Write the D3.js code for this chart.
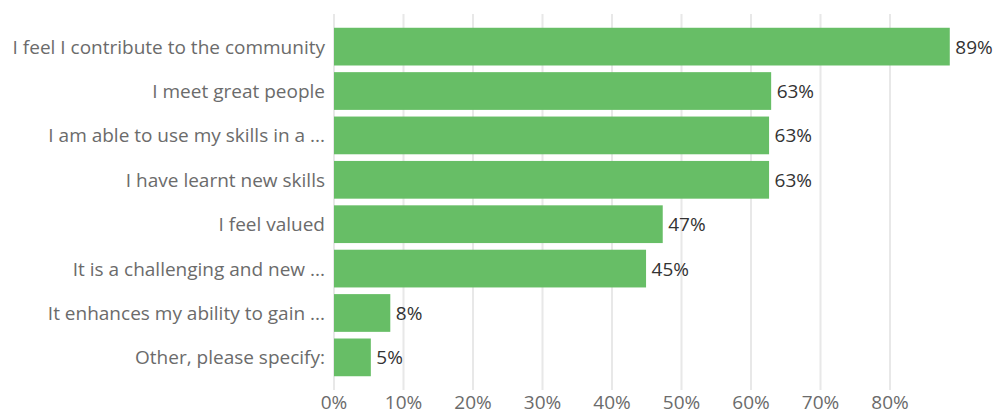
<!DOCTYPE html>
<html>
<head>
<meta charset="utf-8">
<script src="https://cdn.jsdelivr.net/npm/d3@7"></script>
<style>
  html, body { margin: 0; padding: 0; background: #fff; }
  svg { display: block; font-family: "Open Sans", sans-serif; }
</style>
</head>
<body>
<svg id="chart" width="993" height="410"></svg>
<script>
// Survey answers and share of respondents (%)
const categories = [
  "I feel I contribute to the community",
  "I meet great people",
  "I am able to use my skills in a ...",
  "I have learnt new skills",
  "I feel valued",
  "It is a challenging and new ...",
  "It enhances my ability to gain ...",
  "Other, please specify:"
];
const values = [88.6, 62.9, 62.6, 62.6, 47.3, 44.9, 8.1, 5.3];
const tickValues = [0, 10, 20, 30, 40, 50, 60, 70, 80];

const svg = d3.select("#chart");
const plotLeft = 334, plotRight = 334 + 69.5 * 9, plotTop = 14, plotBottom = 390;

const x = d3.scaleLinear().domain([0, 90]).range([plotLeft, plotRight]);
const y = d3.scaleBand().domain(categories).range([plotTop, plotBottom])
  .paddingInner(0.15).paddingOuter(0.31);

// vertical gridlines
svg.append("g").selectAll("line").data(tickValues).join("line")
  .attr("x1", d => x(d)).attr("x2", d => x(d))
  .attr("y1", plotTop).attr("y2", plotBottom)
  .attr("stroke", "#e8e8e8").attr("stroke-width", 2);

// x tick labels
svg.append("g").selectAll("text").data(tickValues).join("text")
  .attr("x", d => x(d)).attr("y", 402)
  .attr("text-anchor", "middle").attr("dominant-baseline", "central")
  .attr("font-size", 19).attr("fill", "#6b6b6b")
  .text(d => d + "%");

// bars
svg.append("g").selectAll("rect").data(values).join("rect")
  .attr("x", x(0))
  .attr("y", (d, i) => y(categories[i]))
  .attr("width", d => x(d) - x(0))
  .attr("height", y.bandwidth())
  .attr("fill", "#67be66");

// category labels
svg.append("g").selectAll("text").data(categories).join("text")
  .attr("x", 325)
  .attr("y", d => y(d) + y.bandwidth() / 2)
  .attr("text-anchor", "end").attr("dominant-baseline", "central")
  .attr("font-size", 19).attr("fill", "#6b6b6b")
  .text(d => d);

// value labels
svg.append("g").selectAll("text").data(values).join("text")
  .attr("x", d => x(d) + 5.5)
  .attr("y", (d, i) => y(categories[i]) + y.bandwidth() / 2)
  .attr("dominant-baseline", "central")
  .attr("font-size", 19).attr("fill", "#333")
  .text(d => Math.round(d) + "%");
</script>
</body>
</html>
